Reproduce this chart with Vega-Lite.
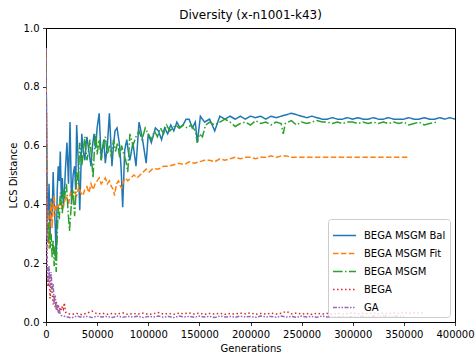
{
"$schema": "https://vega.github.io/schema/vega-lite/v6.json",
"width": 409, "height": 294,
"autosize": "none",
"padding": {"left": 46, "top": 28, "right": 21, "bottom": 34},
"title": {"text": "Diversity (x-n1001-k43)", "fontSize": 12, "font": "DejaVu Sans", "fontWeight": "normal", "color": "black", "offset": 1},
"config": {
 "view": {"stroke": "black", "strokeWidth": 1},
 "font": "DejaVu Sans",
 "axis": {"domain": false, "grid": false, "tickColor": "black", "tickSize": 3.5, "tickWidth": 0.8, "labelFontSize": 10, "labelColor": "black", "labelFont": "DejaVu Sans", "labelPadding": 3.5, "labelOverlap": false, "labelBound": false, "labelFlush": false, "titleFont": "DejaVu Sans", "titleFontSize": 10, "titleFontWeight": "normal", "titleColor": "black"},
 "legend": {"orient": "bottom-right", "offset": 5, "padding": 4, "fillColor": "rgba(255,255,255,0.8)", "strokeColor": "#cccccc", "cornerRadius": 3, "symbolType": "stroke", "symbolSize": 529, "symbolStrokeWidth": 1.5, "labelFontSize": 10, "labelColor": "black", "labelFont": "DejaVu Sans", "labelOffset": 7, "rowPadding": -8.5, "titlePadding": 0}
},
"datasets": {
"d": [
{"series":"BEGA MSGM Bal","gen":0,"val":0.93},{"series":"BEGA MSGM Bal","gen":1000,"val":0.45},{"series":"BEGA MSGM Bal","gen":2000,"val":0.35},{"series":"BEGA MSGM Bal","gen":3000,"val":0.47},{"series":"BEGA MSGM Bal","gen":4000,"val":0.28},{"series":"BEGA MSGM Bal","gen":5000,"val":0.42},{"series":"BEGA MSGM Bal","gen":6000,"val":0.36},{"series":"BEGA MSGM Bal","gen":7000,"val":0.51},{"series":"BEGA MSGM Bal","gen":8000,"val":0.40},{"series":"BEGA MSGM Bal","gen":9000,"val":0.33},{"series":"BEGA MSGM Bal","gen":10000,"val":0.22},{"series":"BEGA MSGM Bal","gen":11000,"val":0.45},{"series":"BEGA MSGM Bal","gen":12000,"val":0.53},{"series":"BEGA MSGM Bal","gen":13000,"val":0.48},{"series":"BEGA MSGM Bal","gen":14000,"val":0.58},{"series":"BEGA MSGM Bal","gen":15000,"val":0.42},{"series":"BEGA MSGM Bal","gen":16000,"val":0.49},{"series":"BEGA MSGM Bal","gen":17000,"val":0.39},{"series":"BEGA MSGM Bal","gen":18000,"val":0.44},{"series":"BEGA MSGM Bal","gen":19000,"val":0.52},{"series":"BEGA MSGM Bal","gen":20500,"val":0.61},{"series":"BEGA MSGM Bal","gen":22000,"val":0.47},{"series":"BEGA MSGM Bal","gen":23500,"val":0.68},{"series":"BEGA MSGM Bal","gen":25000,"val":0.40},{"series":"BEGA MSGM Bal","gen":26500,"val":0.50},{"series":"BEGA MSGM Bal","gen":28000,"val":0.53},{"series":"BEGA MSGM Bal","gen":29000,"val":0.45},{"series":"BEGA MSGM Bal","gen":30000,"val":0.67},{"series":"BEGA MSGM Bal","gen":31500,"val":0.55},{"series":"BEGA MSGM Bal","gen":33000,"val":0.38},{"series":"BEGA MSGM Bal","gen":34000,"val":0.50},{"series":"BEGA MSGM Bal","gen":35000,"val":0.64},{"series":"BEGA MSGM Bal","gen":36500,"val":0.58},{"series":"BEGA MSGM Bal","gen":38000,"val":0.55},{"series":"BEGA MSGM Bal","gen":39000,"val":0.60},{"series":"BEGA MSGM Bal","gen":40000,"val":0.63},{"series":"BEGA MSGM Bal","gen":42000,"val":0.58},{"series":"BEGA MSGM Bal","gen":44000,"val":0.53},{"series":"BEGA MSGM Bal","gen":45500,"val":0.60},{"series":"BEGA MSGM Bal","gen":47000,"val":0.64},{"series":"BEGA MSGM Bal","gen":48500,"val":0.59},{"series":"BEGA MSGM Bal","gen":50000,"val":0.66},{"series":"BEGA MSGM Bal","gen":52000,"val":0.71},{"series":"BEGA MSGM Bal","gen":54000,"val":0.55},{"series":"BEGA MSGM Bal","gen":55000,"val":0.585},{"series":"BEGA MSGM Bal","gen":56500,"val":0.62},{"series":"BEGA MSGM Bal","gen":58000,"val":0.54},{"series":"BEGA MSGM Bal","gen":60000,"val":0.60},{"series":"BEGA MSGM Bal","gen":62000,"val":0.71},{"series":"BEGA MSGM Bal","gen":64500,"val":0.53},{"series":"BEGA MSGM Bal","gen":66000,"val":0.60},{"series":"BEGA MSGM Bal","gen":67500,"val":0.65},{"series":"BEGA MSGM Bal","gen":69500,"val":0.66},{"series":"BEGA MSGM Bal","gen":72000,"val":0.60},{"series":"BEGA MSGM Bal","gen":73500,"val":0.52},{"series":"BEGA MSGM Bal","gen":75000,"val":0.39},{"series":"BEGA MSGM Bal","gen":77000,"val":0.585},{"series":"BEGA MSGM Bal","gen":79000,"val":0.62},{"series":"BEGA MSGM Bal","gen":80500,"val":0.58},{"series":"BEGA MSGM Bal","gen":82000,"val":0.55},{"series":"BEGA MSGM Bal","gen":85000,"val":0.61},{"series":"BEGA MSGM Bal","gen":88000,"val":0.53},{"series":"BEGA MSGM Bal","gen":91000,"val":0.68},{"series":"BEGA MSGM Bal","gen":94000,"val":0.63},{"series":"BEGA MSGM Bal","gen":96000,"val":0.585},{"series":"BEGA MSGM Bal","gen":98000,"val":0.54},{"series":"BEGA MSGM Bal","gen":100000,"val":0.64},{"series":"BEGA MSGM Bal","gen":103000,"val":0.61},{"series":"BEGA MSGM Bal","gen":107000,"val":0.66},{"series":"BEGA MSGM Bal","gen":110000,"val":0.65},{"series":"BEGA MSGM Bal","gen":113000,"val":0.62},{"series":"BEGA MSGM Bal","gen":116000,"val":0.66},{"series":"BEGA MSGM Bal","gen":119000,"val":0.64},{"series":"BEGA MSGM Bal","gen":122000,"val":0.67},{"series":"BEGA MSGM Bal","gen":125000,"val":0.65},{"series":"BEGA MSGM Bal","gen":128000,"val":0.68},{"series":"BEGA MSGM Bal","gen":131000,"val":0.66},{"series":"BEGA MSGM Bal","gen":134000,"val":0.67},{"series":"BEGA MSGM Bal","gen":137000,"val":0.69},{"series":"BEGA MSGM Bal","gen":140000,"val":0.69},{"series":"BEGA MSGM Bal","gen":143000,"val":0.66},{"series":"BEGA MSGM Bal","gen":146000,"val":0.68},{"series":"BEGA MSGM Bal","gen":148000,"val":0.61},{"series":"BEGA MSGM Bal","gen":151000,"val":0.70},{"series":"BEGA MSGM Bal","gen":155000,"val":0.68},{"series":"BEGA MSGM Bal","gen":160000,"val":0.69},{"series":"BEGA MSGM Bal","gen":165000,"val":0.65},{"series":"BEGA MSGM Bal","gen":170000,"val":0.70},{"series":"BEGA MSGM Bal","gen":175000,"val":0.69},{"series":"BEGA MSGM Bal","gen":180000,"val":0.70},{"series":"BEGA MSGM Bal","gen":185000,"val":0.69},{"series":"BEGA MSGM Bal","gen":190000,"val":0.70},{"series":"BEGA MSGM Bal","gen":195000,"val":0.69},{"series":"BEGA MSGM Bal","gen":200000,"val":0.70},{"series":"BEGA MSGM Bal","gen":205000,"val":0.695},{"series":"BEGA MSGM Bal","gen":210000,"val":0.70},{"series":"BEGA MSGM Bal","gen":215000,"val":0.69},{"series":"BEGA MSGM Bal","gen":220000,"val":0.70},{"series":"BEGA MSGM Bal","gen":225000,"val":0.695},{"series":"BEGA MSGM Bal","gen":230000,"val":0.70},{"series":"BEGA MSGM Bal","gen":235000,"val":0.705},{"series":"BEGA MSGM Bal","gen":240000,"val":0.71},{"series":"BEGA MSGM Bal","gen":245000,"val":0.705},{"series":"BEGA MSGM Bal","gen":250000,"val":0.70},{"series":"BEGA MSGM Bal","gen":255000,"val":0.695},{"series":"BEGA MSGM Bal","gen":260000,"val":0.70},{"series":"BEGA MSGM Bal","gen":265000,"val":0.695},{"series":"BEGA MSGM Bal","gen":270000,"val":0.69},{"series":"BEGA MSGM Bal","gen":275000,"val":0.69},{"series":"BEGA MSGM Bal","gen":280000,"val":0.695},{"series":"BEGA MSGM Bal","gen":285000,"val":0.69},{"series":"BEGA MSGM Bal","gen":290000,"val":0.69},{"series":"BEGA MSGM Bal","gen":295000,"val":0.695},{"series":"BEGA MSGM Bal","gen":300000,"val":0.69},{"series":"BEGA MSGM Bal","gen":305000,"val":0.695},{"series":"BEGA MSGM Bal","gen":310000,"val":0.69},{"series":"BEGA MSGM Bal","gen":315000,"val":0.69},{"series":"BEGA MSGM Bal","gen":320000,"val":0.695},{"series":"BEGA MSGM Bal","gen":325000,"val":0.69},{"series":"BEGA MSGM Bal","gen":330000,"val":0.69},{"series":"BEGA MSGM Bal","gen":335000,"val":0.695},{"series":"BEGA MSGM Bal","gen":340000,"val":0.69},{"series":"BEGA MSGM Bal","gen":345000,"val":0.69},{"series":"BEGA MSGM Bal","gen":350000,"val":0.69},{"series":"BEGA MSGM Bal","gen":355000,"val":0.695},{"series":"BEGA MSGM Bal","gen":360000,"val":0.69},{"series":"BEGA MSGM Bal","gen":365000,"val":0.69},{"series":"BEGA MSGM Bal","gen":370000,"val":0.695},{"series":"BEGA MSGM Bal","gen":375000,"val":0.69},{"series":"BEGA MSGM Bal","gen":380000,"val":0.69},{"series":"BEGA MSGM Bal","gen":385000,"val":0.695},{"series":"BEGA MSGM Bal","gen":390000,"val":0.69},{"series":"BEGA MSGM Bal","gen":395000,"val":0.695},{"series":"BEGA MSGM Bal","gen":400000,"val":0.69},

{"series":"BEGA MSGM Fit","gen":0,"val":0.93},{"series":"BEGA MSGM Fit","gen":1000,"val":0.30},{"series":"BEGA MSGM Fit","gen":2000,"val":0.38},{"series":"BEGA MSGM Fit","gen":3000,"val":0.25},{"series":"BEGA MSGM Fit","gen":4000,"val":0.35},{"series":"BEGA MSGM Fit","gen":5000,"val":0.41},{"series":"BEGA MSGM Fit","gen":6000,"val":0.32},{"series":"BEGA MSGM Fit","gen":7000,"val":0.40},{"series":"BEGA MSGM Fit","gen":8000,"val":0.43},{"series":"BEGA MSGM Fit","gen":9000,"val":0.36},{"series":"BEGA MSGM Fit","gen":10000,"val":0.40},{"series":"BEGA MSGM Fit","gen":12000,"val":0.39},{"series":"BEGA MSGM Fit","gen":14000,"val":0.42},{"series":"BEGA MSGM Fit","gen":16000,"val":0.38},{"series":"BEGA MSGM Fit","gen":18000,"val":0.41},{"series":"BEGA MSGM Fit","gen":20000,"val":0.43},{"series":"BEGA MSGM Fit","gen":22000,"val":0.40},{"series":"BEGA MSGM Fit","gen":24000,"val":0.44},{"series":"BEGA MSGM Fit","gen":26000,"val":0.42},{"series":"BEGA MSGM Fit","gen":28000,"val":0.44},{"series":"BEGA MSGM Fit","gen":30000,"val":0.43},{"series":"BEGA MSGM Fit","gen":32000,"val":0.46},{"series":"BEGA MSGM Fit","gen":34000,"val":0.44},{"series":"BEGA MSGM Fit","gen":36000,"val":0.43},{"series":"BEGA MSGM Fit","gen":38000,"val":0.45},{"series":"BEGA MSGM Fit","gen":40000,"val":0.46},{"series":"BEGA MSGM Fit","gen":42000,"val":0.44},{"series":"BEGA MSGM Fit","gen":44000,"val":0.47},{"series":"BEGA MSGM Fit","gen":46000,"val":0.45},{"series":"BEGA MSGM Fit","gen":48000,"val":0.47},{"series":"BEGA MSGM Fit","gen":50000,"val":0.48},{"series":"BEGA MSGM Fit","gen":52000,"val":0.49},{"series":"BEGA MSGM Fit","gen":54000,"val":0.47},{"series":"BEGA MSGM Fit","gen":56000,"val":0.48},{"series":"BEGA MSGM Fit","gen":58000,"val":0.49},{"series":"BEGA MSGM Fit","gen":60000,"val":0.47},{"series":"BEGA MSGM Fit","gen":62000,"val":0.48},{"series":"BEGA MSGM Fit","gen":64000,"val":0.46},{"series":"BEGA MSGM Fit","gen":66000,"val":0.45},{"series":"BEGA MSGM Fit","gen":67000,"val":0.43},{"series":"BEGA MSGM Fit","gen":69000,"val":0.47},{"series":"BEGA MSGM Fit","gen":71000,"val":0.48},{"series":"BEGA MSGM Fit","gen":73000,"val":0.46},{"series":"BEGA MSGM Fit","gen":74000,"val":0.455},{"series":"BEGA MSGM Fit","gen":76000,"val":0.48},{"series":"BEGA MSGM Fit","gen":78000,"val":0.49},{"series":"BEGA MSGM Fit","gen":80000,"val":0.48},{"series":"BEGA MSGM Fit","gen":83000,"val":0.49},{"series":"BEGA MSGM Fit","gen":86000,"val":0.50},{"series":"BEGA MSGM Fit","gen":89000,"val":0.49},{"series":"BEGA MSGM Fit","gen":92000,"val":0.50},{"series":"BEGA MSGM Fit","gen":95000,"val":0.51},{"series":"BEGA MSGM Fit","gen":98000,"val":0.52},{"series":"BEGA MSGM Fit","gen":101000,"val":0.51},{"series":"BEGA MSGM Fit","gen":104000,"val":0.52},{"series":"BEGA MSGM Fit","gen":107000,"val":0.52},{"series":"BEGA MSGM Fit","gen":110000,"val":0.52},{"series":"BEGA MSGM Fit","gen":115000,"val":0.53},{"series":"BEGA MSGM Fit","gen":120000,"val":0.53},{"series":"BEGA MSGM Fit","gen":125000,"val":0.535},{"series":"BEGA MSGM Fit","gen":130000,"val":0.54},{"series":"BEGA MSGM Fit","gen":135000,"val":0.535},{"series":"BEGA MSGM Fit","gen":140000,"val":0.545},{"series":"BEGA MSGM Fit","gen":145000,"val":0.54},{"series":"BEGA MSGM Fit","gen":150000,"val":0.545},{"series":"BEGA MSGM Fit","gen":155000,"val":0.55},{"series":"BEGA MSGM Fit","gen":160000,"val":0.55},{"series":"BEGA MSGM Fit","gen":165000,"val":0.545},{"series":"BEGA MSGM Fit","gen":170000,"val":0.555},{"series":"BEGA MSGM Fit","gen":175000,"val":0.55},{"series":"BEGA MSGM Fit","gen":180000,"val":0.555},{"series":"BEGA MSGM Fit","gen":185000,"val":0.56},{"series":"BEGA MSGM Fit","gen":190000,"val":0.555},{"series":"BEGA MSGM Fit","gen":195000,"val":0.56},{"series":"BEGA MSGM Fit","gen":200000,"val":0.56},{"series":"BEGA MSGM Fit","gen":205000,"val":0.555},{"series":"BEGA MSGM Fit","gen":210000,"val":0.56},{"series":"BEGA MSGM Fit","gen":215000,"val":0.56},{"series":"BEGA MSGM Fit","gen":220000,"val":0.565},{"series":"BEGA MSGM Fit","gen":225000,"val":0.56},{"series":"BEGA MSGM Fit","gen":230000,"val":0.565},{"series":"BEGA MSGM Fit","gen":235000,"val":0.565},{"series":"BEGA MSGM Fit","gen":240000,"val":0.56},{"series":"BEGA MSGM Fit","gen":250000,"val":0.56},{"series":"BEGA MSGM Fit","gen":260000,"val":0.56},{"series":"BEGA MSGM Fit","gen":270000,"val":0.56},{"series":"BEGA MSGM Fit","gen":280000,"val":0.56},{"series":"BEGA MSGM Fit","gen":290000,"val":0.56},{"series":"BEGA MSGM Fit","gen":300000,"val":0.56},{"series":"BEGA MSGM Fit","gen":310000,"val":0.56},{"series":"BEGA MSGM Fit","gen":320000,"val":0.56},{"series":"BEGA MSGM Fit","gen":330000,"val":0.56},{"series":"BEGA MSGM Fit","gen":340000,"val":0.56},{"series":"BEGA MSGM Fit","gen":354000,"val":0.56},

{"series":"BEGA MSGM","gen":0,"val":0.93},{"series":"BEGA MSGM","gen":1000,"val":0.33},{"series":"BEGA MSGM","gen":2000,"val":0.27},{"series":"BEGA MSGM","gen":3000,"val":0.34},{"series":"BEGA MSGM","gen":4000,"val":0.25},{"series":"BEGA MSGM","gen":5000,"val":0.30},{"series":"BEGA MSGM","gen":6000,"val":0.22},{"series":"BEGA MSGM","gen":7000,"val":0.28},{"series":"BEGA MSGM","gen":8000,"val":0.19},{"series":"BEGA MSGM","gen":9000,"val":0.26},{"series":"BEGA MSGM","gen":10000,"val":0.17},{"series":"BEGA MSGM","gen":11000,"val":0.30},{"series":"BEGA MSGM","gen":12000,"val":0.39},{"series":"BEGA MSGM","gen":13000,"val":0.35},{"series":"BEGA MSGM","gen":14000,"val":0.44},{"series":"BEGA MSGM","gen":15000,"val":0.40},{"series":"BEGA MSGM","gen":16000,"val":0.37},{"series":"BEGA MSGM","gen":17000,"val":0.45},{"series":"BEGA MSGM","gen":18000,"val":0.42},{"series":"BEGA MSGM","gen":20000,"val":0.47},{"series":"BEGA MSGM","gen":21500,"val":0.38},{"series":"BEGA MSGM","gen":23000,"val":0.31},{"series":"BEGA MSGM","gen":24000,"val":0.36},{"series":"BEGA MSGM","gen":25000,"val":0.415},{"series":"BEGA MSGM","gen":26500,"val":0.45},{"series":"BEGA MSGM","gen":28000,"val":0.36},{"series":"BEGA MSGM","gen":29000,"val":0.42},{"series":"BEGA MSGM","gen":30000,"val":0.51},{"series":"BEGA MSGM","gen":31500,"val":0.47},{"series":"BEGA MSGM","gen":33000,"val":0.61},{"series":"BEGA MSGM","gen":34000,"val":0.56},{"series":"BEGA MSGM","gen":35000,"val":0.53},{"series":"BEGA MSGM","gen":36500,"val":0.58},{"series":"BEGA MSGM","gen":38000,"val":0.63},{"series":"BEGA MSGM","gen":40000,"val":0.55},{"series":"BEGA MSGM","gen":41500,"val":0.58},{"series":"BEGA MSGM","gen":43000,"val":0.62},{"series":"BEGA MSGM","gen":44500,"val":0.56},{"series":"BEGA MSGM","gen":46000,"val":0.49},{"series":"BEGA MSGM","gen":47500,"val":0.60},{"series":"BEGA MSGM","gen":49000,"val":0.64},{"series":"BEGA MSGM","gen":50000,"val":0.57},{"series":"BEGA MSGM","gen":52000,"val":0.62},{"series":"BEGA MSGM","gen":54000,"val":0.55},{"series":"BEGA MSGM","gen":56000,"val":0.60},{"series":"BEGA MSGM","gen":58000,"val":0.63},{"series":"BEGA MSGM","gen":60000,"val":0.57},{"series":"BEGA MSGM","gen":62000,"val":0.60},{"series":"BEGA MSGM","gen":64000,"val":0.56},{"series":"BEGA MSGM","gen":66000,"val":0.62},{"series":"BEGA MSGM","gen":68000,"val":0.58},{"series":"BEGA MSGM","gen":70000,"val":0.61},{"series":"BEGA MSGM","gen":72000,"val":0.56},{"series":"BEGA MSGM","gen":74000,"val":0.60},{"series":"BEGA MSGM","gen":76000,"val":0.57},{"series":"BEGA MSGM","gen":78000,"val":0.55},{"series":"BEGA MSGM","gen":80000,"val":0.51},{"series":"BEGA MSGM","gen":82000,"val":0.64},{"series":"BEGA MSGM","gen":85000,"val":0.60},{"series":"BEGA MSGM","gen":88000,"val":0.63},{"series":"BEGA MSGM","gen":91000,"val":0.65},{"series":"BEGA MSGM","gen":94000,"val":0.62},{"series":"BEGA MSGM","gen":97000,"val":0.66},{"series":"BEGA MSGM","gen":100000,"val":0.64},{"series":"BEGA MSGM","gen":103000,"val":0.62},{"series":"BEGA MSGM","gen":106000,"val":0.65},{"series":"BEGA MSGM","gen":109000,"val":0.63},{"series":"BEGA MSGM","gen":112000,"val":0.66},{"series":"BEGA MSGM","gen":115000,"val":0.64},{"series":"BEGA MSGM","gen":118000,"val":0.67},{"series":"BEGA MSGM","gen":121000,"val":0.65},{"series":"BEGA MSGM","gen":124000,"val":0.66},{"series":"BEGA MSGM","gen":127000,"val":0.67},{"series":"BEGA MSGM","gen":130000,"val":0.66},{"series":"BEGA MSGM","gen":134000,"val":0.67},{"series":"BEGA MSGM","gen":138000,"val":0.66},{"series":"BEGA MSGM","gen":142000,"val":0.67},{"series":"BEGA MSGM","gen":146000,"val":0.65},{"series":"BEGA MSGM","gen":148000,"val":0.61},{"series":"BEGA MSGM","gen":150000,"val":0.64},{"series":"BEGA MSGM","gen":153000,"val":0.63},{"series":"BEGA MSGM","gen":156000,"val":0.67},{"series":"BEGA MSGM","gen":160000,"val":0.68},{"series":"BEGA MSGM","gen":165000,"val":0.67},{"series":"BEGA MSGM","gen":170000,"val":0.68},{"series":"BEGA MSGM","gen":175000,"val":0.69},{"series":"BEGA MSGM","gen":180000,"val":0.68},{"series":"BEGA MSGM","gen":185000,"val":0.665},{"series":"BEGA MSGM","gen":190000,"val":0.675},{"series":"BEGA MSGM","gen":195000,"val":0.68},{"series":"BEGA MSGM","gen":200000,"val":0.67},{"series":"BEGA MSGM","gen":205000,"val":0.685},{"series":"BEGA MSGM","gen":210000,"val":0.675},{"series":"BEGA MSGM","gen":215000,"val":0.68},{"series":"BEGA MSGM","gen":220000,"val":0.67},{"series":"BEGA MSGM","gen":225000,"val":0.68},{"series":"BEGA MSGM","gen":230000,"val":0.675},{"series":"BEGA MSGM","gen":232000,"val":0.64},{"series":"BEGA MSGM","gen":234000,"val":0.675},{"series":"BEGA MSGM","gen":240000,"val":0.685},{"series":"BEGA MSGM","gen":245000,"val":0.67},{"series":"BEGA MSGM","gen":250000,"val":0.68},{"series":"BEGA MSGM","gen":255000,"val":0.675},{"series":"BEGA MSGM","gen":260000,"val":0.68},{"series":"BEGA MSGM","gen":265000,"val":0.685},{"series":"BEGA MSGM","gen":270000,"val":0.68},{"series":"BEGA MSGM","gen":275000,"val":0.68},{"series":"BEGA MSGM","gen":280000,"val":0.675},{"series":"BEGA MSGM","gen":285000,"val":0.68},{"series":"BEGA MSGM","gen":290000,"val":0.675},{"series":"BEGA MSGM","gen":295000,"val":0.68},{"series":"BEGA MSGM","gen":300000,"val":0.68},{"series":"BEGA MSGM","gen":305000,"val":0.675},{"series":"BEGA MSGM","gen":310000,"val":0.68},{"series":"BEGA MSGM","gen":315000,"val":0.675},{"series":"BEGA MSGM","gen":320000,"val":0.68},{"series":"BEGA MSGM","gen":325000,"val":0.675},{"series":"BEGA MSGM","gen":330000,"val":0.68},{"series":"BEGA MSGM","gen":335000,"val":0.675},{"series":"BEGA MSGM","gen":340000,"val":0.68},{"series":"BEGA MSGM","gen":345000,"val":0.675},{"series":"BEGA MSGM","gen":350000,"val":0.68},{"series":"BEGA MSGM","gen":355000,"val":0.67},{"series":"BEGA MSGM","gen":360000,"val":0.675},{"series":"BEGA MSGM","gen":365000,"val":0.68},{"series":"BEGA MSGM","gen":370000,"val":0.67},{"series":"BEGA MSGM","gen":375000,"val":0.675},{"series":"BEGA MSGM","gen":382000,"val":0.68},

{"series":"BEGA","gen":0,"val":0.93},{"series":"BEGA","gen":1000,"val":0.17},{"series":"BEGA","gen":2000,"val":0.12},{"series":"BEGA","gen":3000,"val":0.16},{"series":"BEGA","gen":4000,"val":0.08},{"series":"BEGA","gen":5000,"val":0.13},{"series":"BEGA","gen":6000,"val":0.10},{"series":"BEGA","gen":7000,"val":0.06},{"series":"BEGA","gen":8000,"val":0.09},{"series":"BEGA","gen":9000,"val":0.05},{"series":"BEGA","gen":10000,"val":0.07},{"series":"BEGA","gen":11000,"val":0.04},{"series":"BEGA","gen":12000,"val":0.06},{"series":"BEGA","gen":13000,"val":0.035},{"series":"BEGA","gen":14000,"val":0.05},{"series":"BEGA","gen":15000,"val":0.04},{"series":"BEGA","gen":16000,"val":0.055},{"series":"BEGA","gen":17000,"val":0.045},{"series":"BEGA","gen":18000,"val":0.065},{"series":"BEGA","gen":19000,"val":0.035},{"series":"BEGA","gen":20000,"val":0.03},{"series":"BEGA","gen":25000,"val":0.026},{"series":"BEGA","gen":30000,"val":0.029},{"series":"BEGA","gen":35000,"val":0.025},{"series":"BEGA","gen":40000,"val":0.03},{"series":"BEGA","gen":45000,"val":0.037},{"series":"BEGA","gen":50000,"val":0.027},{"series":"BEGA","gen":55000,"val":0.03},{"series":"BEGA","gen":60000,"val":0.026},{"series":"BEGA","gen":65000,"val":0.029},{"series":"BEGA","gen":70000,"val":0.027},{"series":"BEGA","gen":75000,"val":0.031},{"series":"BEGA","gen":80000,"val":0.026},{"series":"BEGA","gen":85000,"val":0.029},{"series":"BEGA","gen":90000,"val":0.027},{"series":"BEGA","gen":95000,"val":0.03},{"series":"BEGA","gen":100000,"val":0.026},{"series":"BEGA","gen":105000,"val":0.028},{"series":"BEGA","gen":110000,"val":0.032},{"series":"BEGA","gen":115000,"val":0.027},{"series":"BEGA","gen":120000,"val":0.029},{"series":"BEGA","gen":125000,"val":0.026},{"series":"BEGA","gen":130000,"val":0.03},{"series":"BEGA","gen":135000,"val":0.028},{"series":"BEGA","gen":140000,"val":0.031},{"series":"BEGA","gen":145000,"val":0.027},{"series":"BEGA","gen":150000,"val":0.03},{"series":"BEGA","gen":155000,"val":0.026},{"series":"BEGA","gen":160000,"val":0.029},{"series":"BEGA","gen":165000,"val":0.027},{"series":"BEGA","gen":170000,"val":0.03},{"series":"BEGA","gen":175000,"val":0.026},{"series":"BEGA","gen":180000,"val":0.029},{"series":"BEGA","gen":185000,"val":0.027},{"series":"BEGA","gen":190000,"val":0.03},{"series":"BEGA","gen":195000,"val":0.028},{"series":"BEGA","gen":200000,"val":0.031},{"series":"BEGA","gen":205000,"val":0.026},{"series":"BEGA","gen":210000,"val":0.029},{"series":"BEGA","gen":215000,"val":0.027},{"series":"BEGA","gen":220000,"val":0.03},{"series":"BEGA","gen":225000,"val":0.027},{"series":"BEGA","gen":230000,"val":0.03},{"series":"BEGA","gen":235000,"val":0.036},{"series":"BEGA","gen":240000,"val":0.028},{"series":"BEGA","gen":245000,"val":0.03},{"series":"BEGA","gen":250000,"val":0.027},{"series":"BEGA","gen":255000,"val":0.029},{"series":"BEGA","gen":260000,"val":0.026},{"series":"BEGA","gen":265000,"val":0.03},{"series":"BEGA","gen":270000,"val":0.027},{"series":"BEGA","gen":275000,"val":0.029},{"series":"BEGA","gen":280000,"val":0.026},{"series":"BEGA","gen":285000,"val":0.03},{"series":"BEGA","gen":290000,"val":0.027},{"series":"BEGA","gen":295000,"val":0.029},{"series":"BEGA","gen":300000,"val":0.031},{"series":"BEGA","gen":305000,"val":0.027},{"series":"BEGA","gen":310000,"val":0.03},{"series":"BEGA","gen":315000,"val":0.028},{"series":"BEGA","gen":320000,"val":0.031},{"series":"BEGA","gen":325000,"val":0.027},{"series":"BEGA","gen":330000,"val":0.03},{"series":"BEGA","gen":335000,"val":0.028},{"series":"BEGA","gen":340000,"val":0.031},{"series":"BEGA","gen":345000,"val":0.029},{"series":"BEGA","gen":350000,"val":0.032},{"series":"BEGA","gen":355000,"val":0.03},{"series":"BEGA","gen":360000,"val":0.032},{"series":"BEGA","gen":365000,"val":0.03},{"series":"BEGA","gen":370000,"val":0.033},

{"series":"GA","gen":0,"val":0.93},{"series":"GA","gen":1000,"val":0.20},{"series":"GA","gen":2000,"val":0.14},{"series":"GA","gen":3000,"val":0.19},{"series":"GA","gen":4000,"val":0.12},{"series":"GA","gen":5000,"val":0.17},{"series":"GA","gen":6000,"val":0.11},{"series":"GA","gen":7000,"val":0.13},{"series":"GA","gen":8000,"val":0.06},{"series":"GA","gen":9000,"val":0.09},{"series":"GA","gen":10000,"val":0.04},{"series":"GA","gen":11000,"val":0.06},{"series":"GA","gen":12000,"val":0.03},{"series":"GA","gen":13000,"val":0.04},{"series":"GA","gen":14000,"val":0.025},{"series":"GA","gen":15000,"val":0.022},{"series":"GA","gen":20000,"val":0.018},{"series":"GA","gen":25000,"val":0.014},{"series":"GA","gen":30000,"val":0.02},{"series":"GA","gen":35000,"val":0.016},{"series":"GA","gen":40000,"val":0.019},{"series":"GA","gen":45000,"val":0.015},{"series":"GA","gen":50000,"val":0.02},{"series":"GA","gen":55000,"val":0.017},{"series":"GA","gen":60000,"val":0.019},{"series":"GA","gen":65000,"val":0.015},{"series":"GA","gen":70000,"val":0.02},{"series":"GA","gen":75000,"val":0.016},{"series":"GA","gen":80000,"val":0.019},{"series":"GA","gen":85000,"val":0.017},{"series":"GA","gen":90000,"val":0.02},{"series":"GA","gen":95000,"val":0.015},{"series":"GA","gen":100000,"val":0.019},{"series":"GA","gen":105000,"val":0.017},{"series":"GA","gen":110000,"val":0.02},{"series":"GA","gen":115000,"val":0.016},{"series":"GA","gen":120000,"val":0.019},{"series":"GA","gen":125000,"val":0.015},{"series":"GA","gen":130000,"val":0.02},{"series":"GA","gen":135000,"val":0.017},{"series":"GA","gen":140000,"val":0.019},{"series":"GA","gen":145000,"val":0.016},{"series":"GA","gen":150000,"val":0.02},{"series":"GA","gen":155000,"val":0.017},{"series":"GA","gen":160000,"val":0.019},{"series":"GA","gen":165000,"val":0.015},{"series":"GA","gen":170000,"val":0.02},{"series":"GA","gen":175000,"val":0.017},{"series":"GA","gen":180000,"val":0.019},{"series":"GA","gen":185000,"val":0.016},{"series":"GA","gen":190000,"val":0.02},{"series":"GA","gen":195000,"val":0.017},{"series":"GA","gen":200000,"val":0.019},{"series":"GA","gen":205000,"val":0.016},{"series":"GA","gen":210000,"val":0.02},{"series":"GA","gen":215000,"val":0.017},{"series":"GA","gen":220000,"val":0.019},{"series":"GA","gen":225000,"val":0.016},{"series":"GA","gen":230000,"val":0.02},{"series":"GA","gen":235000,"val":0.017},{"series":"GA","gen":240000,"val":0.019},{"series":"GA","gen":245000,"val":0.016},{"series":"GA","gen":250000,"val":0.02},{"series":"GA","gen":255000,"val":0.017},{"series":"GA","gen":260000,"val":0.019},{"series":"GA","gen":265000,"val":0.016},{"series":"GA","gen":270000,"val":0.02},{"series":"GA","gen":275000,"val":0.017},{"series":"GA","gen":280000,"val":0.019},{"series":"GA","gen":285000,"val":0.016},{"series":"GA","gen":290000,"val":0.02},{"series":"GA","gen":295000,"val":0.017},{"series":"GA","gen":300000,"val":0.019},{"series":"GA","gen":305000,"val":0.017},{"series":"GA","gen":310000,"val":0.02},{"series":"GA","gen":315000,"val":0.018},{"series":"GA","gen":320000,"val":0.02},{"series":"GA","gen":325000,"val":0.018},{"series":"GA","gen":330000,"val":0.021},{"series":"GA","gen":335000,"val":0.019},{"series":"GA","gen":340000,"val":0.021},{"series":"GA","gen":345000,"val":0.019},{"series":"GA","gen":350000,"val":0.02}
]
},
"data": {"name": "d"},
"mark": {"type": "line", "strokeWidth": 1.5, "clip": true},
"encoding": {
 "x": {"field": "gen", "type": "quantitative", "scale": {"domain": [0, 400000], "nice": false, "zero": false}, "axis": {"title": "Generations", "values": [0, 50000, 100000, 150000, 200000, 250000, 300000, 350000, 400000], "format": "d", "titlePadding": 4}},
 "y": {"field": "val", "type": "quantitative", "scale": {"domain": [0, 1], "nice": false}, "axis": {"title": "LCS Distance", "values": [0, 0.2, 0.4, 0.6, 0.8, 1.0], "format": ".1f", "titlePadding": 5}},
 "color": {"field": "series", "type": "nominal", "title": null, "sort": ["BEGA MSGM Bal", "BEGA MSGM Fit", "BEGA MSGM", "BEGA", "GA"], "scale": {"domain": ["BEGA MSGM Bal", "BEGA MSGM Fit", "BEGA MSGM", "BEGA", "GA"], "range": ["#1f77b4", "#ff7f0e", "#2ca02c", "#d62728", "#9467bd"]}},
 "strokeDash": {"field": "series", "type": "nominal", "title": null, "sort": ["BEGA MSGM Bal", "BEGA MSGM Fit", "BEGA MSGM", "BEGA", "GA"], "scale": {"domain": ["BEGA MSGM Bal", "BEGA MSGM Fit", "BEGA MSGM", "BEGA", "GA"], "range": [[1, 0], [5.5, 2.4], [9.6, 2.4, 1.5, 2.4], [1.5, 2.5], [4, 1.5, 1.5, 1.5, 1.5, 1.5]]}}
}
}
